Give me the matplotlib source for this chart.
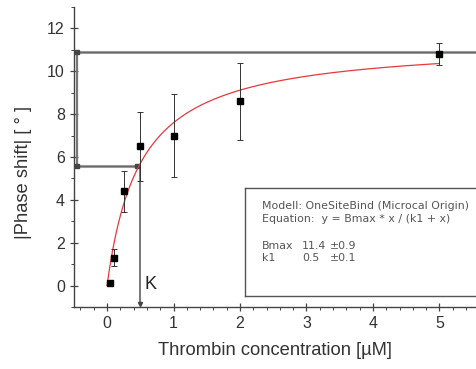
import numpy as np
import matplotlib
matplotlib.use("Agg")
import matplotlib.pyplot as plt
from matplotlib.ticker import MultipleLocator

plt.rcParams['font.family'] = ['Liberation Sans', 'DejaVu Sans']

# Data
conc = [0.05, 0.1, 0.25, 0.5, 1.0, 2.0, 5.0]
phase = [0.1, 1.3, 4.4, 6.5, 7.0, 8.6, 10.8]
err = [0.0, 0.4, 0.95, 1.6, 1.95, 1.8, 0.5]
bmax = 11.4
k1 = 0.5
xticks = [0, 1, 2, 3, 4, 5]
yticks = [0, 2, 4, 6, 8, 10, 12]

fig = plt.figure(figsize=(4.76, 3.69), dpi=100)
ax = fig.add_axes([0.155, 0.168, 0.845, 0.813])

xf = np.linspace(0.0, 5.0, 300)
yf = bmax * xf / (k1 + xf)
ax.plot(xf, yf, color='#e8383d', lw=0.9, zorder=3)

ax.errorbar(conc, phase, yerr=err, fmt='s', color='black', ms=4.5,
            ecolor='#333333', elinewidth=0.7, capsize=2.5, capthick=0.7, zorder=4)

# Guide lines
ymax_line = 10.9
yk = bmax / 2 - 0.1
xl = -0.45
ax.plot([xl, 5.55], [ymax_line, ymax_line], color='#999999', lw=2.2, zorder=2, solid_capstyle='butt')
ax.plot([xl, 5.55], [ymax_line, ymax_line], color='#555555', lw=0.5, zorder=2)
ax.plot([xl, xl], [yk, ymax_line], color='#777777', lw=1.6, zorder=2)
ax.plot([xl, k1], [yk, yk], color='#999999', lw=2.2, zorder=2, solid_capstyle='butt')
ax.plot([xl, k1], [yk, yk], color='#555555', lw=0.5, zorder=2)
ax.plot([k1, k1], [yk, -0.85], color='#777777', lw=1.4, zorder=2)
ax.plot([xl, xl, k1 - 0.05], [ymax_line, yk, yk], 's', color='#444444', ms=2.5, zorder=2)
ax.plot([k1], [-0.85], 'v', color='#444444', ms=3, zorder=2)
ax.text(k1 + 0.07, 0.05, 'K', fontsize=13, color='#222222', va='center', ha='left')

ax.set_xlim(-0.5, 5.55)
ax.set_ylim(-1, 13)
ax.set_xticks(xticks)
ax.set_yticks(yticks)
ax.xaxis.set_minor_locator(MultipleLocator(0.2))
ax.yaxis.set_minor_locator(MultipleLocator(1))
ax.spines['top'].set_visible(False)
ax.spines['right'].set_visible(False)
for s in ['left', 'bottom']:
    ax.spines[s].set_color('#444444')
    ax.spines[s].set_linewidth(1.0)
ax.tick_params(which='major', direction='inout', length=6, width=0.9, colors='#444444',
               labelsize=11.5, labelcolor='#333333')
ax.tick_params(which='minor', direction='out', length=2, width=0.7, colors='#444444')

ax.set_xlabel('Thrombin concentration [µM]', fontsize=13.2, color='#333333', labelpad=8)
ax.set_ylabel('|Phase shift| [ ° ]', fontsize=13.2, color='#333333')
ax.yaxis.set_label_coords(-0.105, 0.45)

# Legend box
box = fig.add_axes([245 / 476, 1 - 296 / 369, (476 - 245) / 476, (296 - 188) / 369])
box.set_xticks([])
box.set_yticks([])
box.set_xlim(0, 231)
box.set_ylim(108, 0)
for s in box.spines.values():
    s.set_color('#555555')
    s.set_linewidth(1.0)
box.spines['right'].set_visible(False)
tc = '#555555'
fs = 7.9
fam = ['DejaVu Sans']
box.text(17, 18, 'Modell: OneSiteBind (Microcal Origin)', fontsize=fs, color=tc, va='center', family=fam)
box.text(17, 31, 'Equation:  y = Bmax * x / (k1 + x)', fontsize=fs, color=tc, va='center', family=fam)
box.text(17, 58, 'Bmax', fontsize=fs, color=tc, va='center', family=fam)
box.text(57, 58, f'{bmax}', fontsize=fs, color=tc, va='center', family=fam)
box.text(85, 58, '±0.9', fontsize=fs, color=tc, va='center', family=fam)
box.text(17, 70, 'k1', fontsize=fs, color=tc, va='center', family=fam)
box.text(57, 70, f'{k1}', fontsize=fs, color=tc, va='center', family=fam)
box.text(85, 70, '±0.1', fontsize=fs, color=tc, va='center', family=fam)

fig.savefig('out.png', dpi=100)
